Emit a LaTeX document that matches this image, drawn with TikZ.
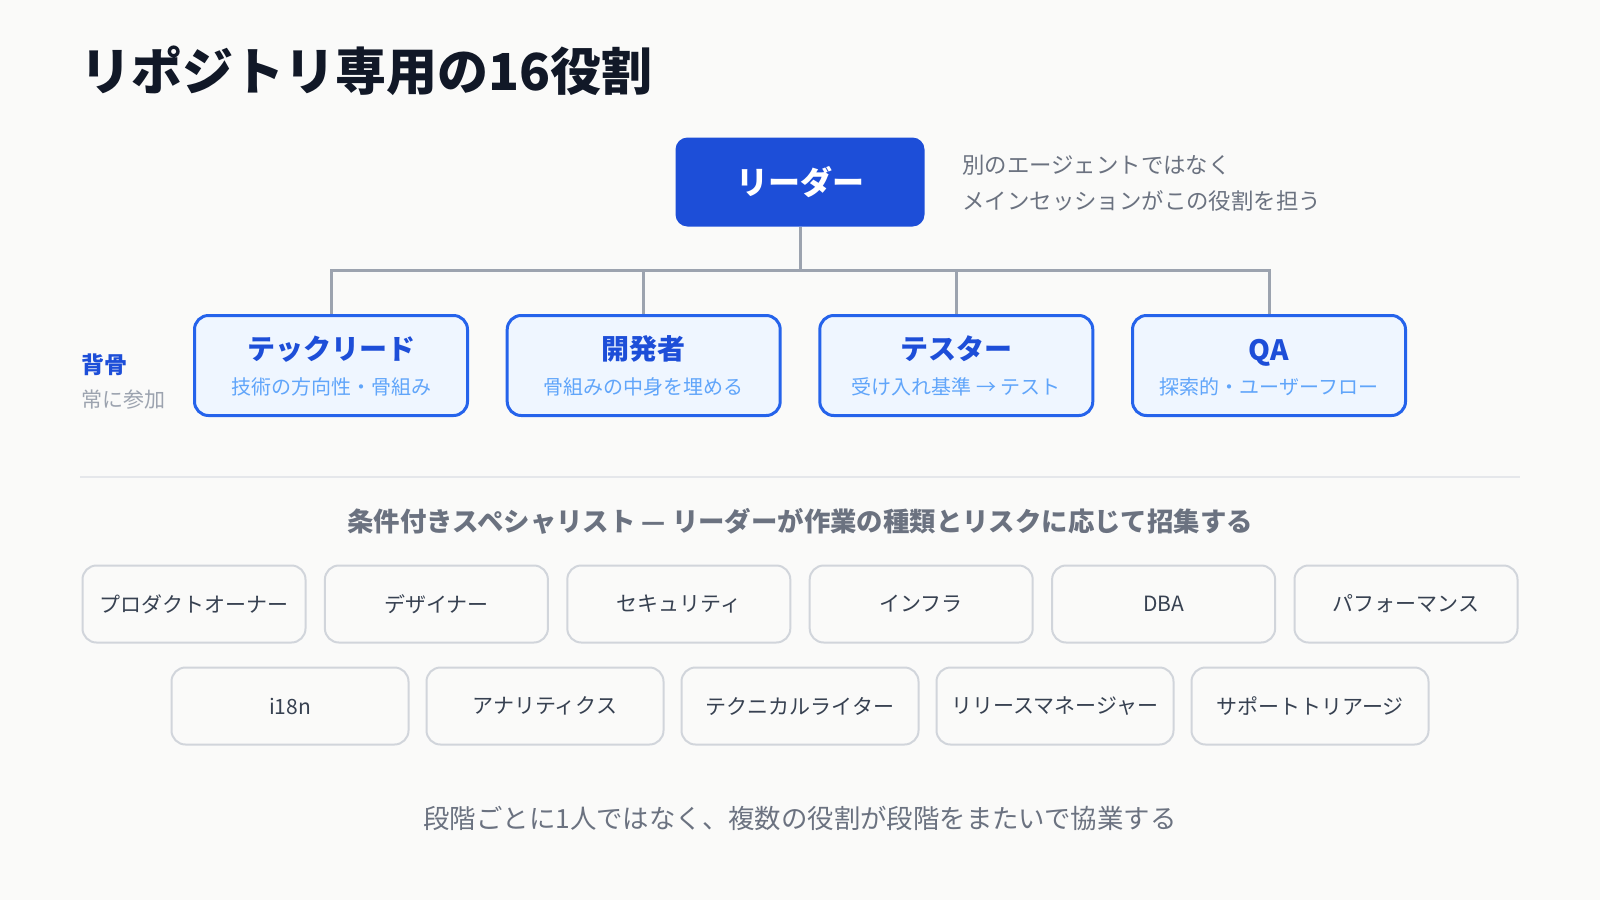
\documentclass[tikz,border=0pt]{standalone}
\usepackage{fontspec}
\setmainfont{Noto Sans CJK JP}
\usetikzlibrary{positioning}
\definecolor{bgc}{HTML}{FAFAF9}
\definecolor{titlec}{HTML}{111827}
\definecolor{leaderc}{HTML}{1D4ED8}
\definecolor{bordc}{HTML}{2563EB}
\definecolor{boxfill}{HTML}{EFF6FF}
\definecolor{subc}{HTML}{60A5FA}
\definecolor{grayt}{HTML}{6B7280}
\definecolor{lgrayt}{HTML}{9CA3AF}
\definecolor{linec}{HTML}{9CA3AF}
\definecolor{sepc}{HTML}{E5E7EB}
\definecolor{specb}{HTML}{D1D5DB}
\definecolor{spect}{HTML}{374151}
\tikzset{
  leaderbox/.style={draw=none, fill=leaderc, rounded corners=6pt, minimum width=124.5pt, minimum height=44.5pt, inner sep=0pt, text=white, font=\fontsize{16}{18}\selectfont\bfseries},
  corebox/.style={draw=bordc, line width=1.5pt, fill=boxfill, rounded corners=7pt, minimum width=136.5pt, minimum height=50pt, inner sep=0pt},
  coretitle/.style={inner sep=0pt, text=leaderc, font=\fontsize{14}{16}\selectfont\bfseries},
  coresub/.style={inner sep=0pt, text=subc, font=\fontsize{10}{12}\selectfont},
  specbox/.style={draw=specb, line width=1pt, fill=bgc, rounded corners=7pt, minimum height=38.5pt, inner sep=0pt, text=spect, font=\fontsize{10.5}{12}\selectfont},
  spec1/.style={specbox, minimum width=111.5pt},
  spec2/.style={specbox, minimum width=118.5pt},
  conn/.style={draw=linec, line width=1.5pt},
}
\begin{document}
\begin{tikzpicture}[x=0.5pt,y=-0.5pt]
\fill[bgc] (0,0) rectangle (1600,900);
\useasboundingbox (0,0) rectangle (1600,900);

% title
\node[anchor=west, inner sep=0pt, text=titlec, font=\fontsize{25.5}{28}\selectfont\bfseries] (title) at (80,71) {リポジトリ専用の16役割};

% leader
\node[leaderbox] (leader) at (800,182) {リーダー};
\node[anchor=west, inner sep=0pt, align=left, text=grayt, font=\fontsize{11.2}{18}\selectfont] (note) at (962,183) {別のエージェントではなく\\メインセッションがこの役割を担う};

% core boxes
\node[corebox] (b1) at (331,365.5) {};
\node[corebox] (b2) at (643.7,365.5) {};
\node[corebox] (b3) at (956.3,365.5) {};
\node[corebox] (b4) at (1269,365.5) {};

\node[coretitle] (t1) at (331,349) {テックリード};
\node[coresub] (s1) at (331,387) {技術の方向性・骨組み};
\node[coretitle] (t2) at (643.7,349) {開発者};
\node[coresub] (s2) at (643.7,387) {骨組みの中身を埋める};
\node[coretitle] (t3) at (956.3,349) {テスター};
\node[coresub] (s3) at (956.3,387) {受け入れ基準 → テスト};
\node[coretitle] (t4) at (1269,352) {\vphantom{テ}QA};
\node[coresub] (s4) at (1269,387) {探索的・ユーザーフロー};

% connectors
\coordinate (bus) at (800,270);
\draw[conn] (leader.south) -- (bus);
\draw[conn] (bus) -| (b1.north);
\draw[conn] (bus) -| (b2.north);
\draw[conn] (bus) -| (b3.north);
\draw[conn] (bus) -| (b4.north);

% side label
\node[anchor=west, inner sep=0pt, text=leaderc, font=\fontsize{11.5}{13}\selectfont\bfseries] (sebone) at (81,365) {背骨};
\node[anchor=west, inner sep=0pt, text=lgrayt, font=\fontsize{10.5}{12}\selectfont] (always) at (81,400) {常に参加};

% separator
\coordinate (sepL) at (80,476.5);
\coordinate (sepR) at (1520,476.5);
\draw[sepc, line width=1pt] (sepL) -- (sepR);

% subheading
\node[inner sep=0pt, text=grayt, font=\fontsize{13.2}{15}\selectfont\bfseries] (subhead) at (800,521) {条件付きスペシャリスト — リーダーが作業の種類とリスクに応じて招集する};

% specialists row 1
\node[spec1] (p1) at (194,604) {プロダクトオーナー};
\node[spec1] (p2) at (436.4,604) {デザイナー};
\node[spec1] (p3) at (678.8,604) {セキュリティ};
\node[spec1] (p4) at (921.2,604) {インフラ};
\node[spec1] (p5) at (1163.6,604) {DBA};
\node[spec1] (p6) at (1406,604) {パフォーマンス};

% specialists row 2
\node[spec2] (q1) at (290,706) {i18n};
\node[spec2] (q2) at (545,706) {アナリティクス};
\node[spec2] (q3) at (800,706) {テクニカルライター};
\node[spec2] (q4) at (1055,706) {リリースマネージャー};
\node[spec2] (q5) at (1310,706) {サポートトリアージ};

% footer
\node[inner sep=0pt, text=grayt, font=\fontsize{13.2}{15}\selectfont] (footer) at (800,818) {段階ごとに1人ではなく、複数の役割が段階をまたいで協業する};
\end{tikzpicture}
\end{document}
